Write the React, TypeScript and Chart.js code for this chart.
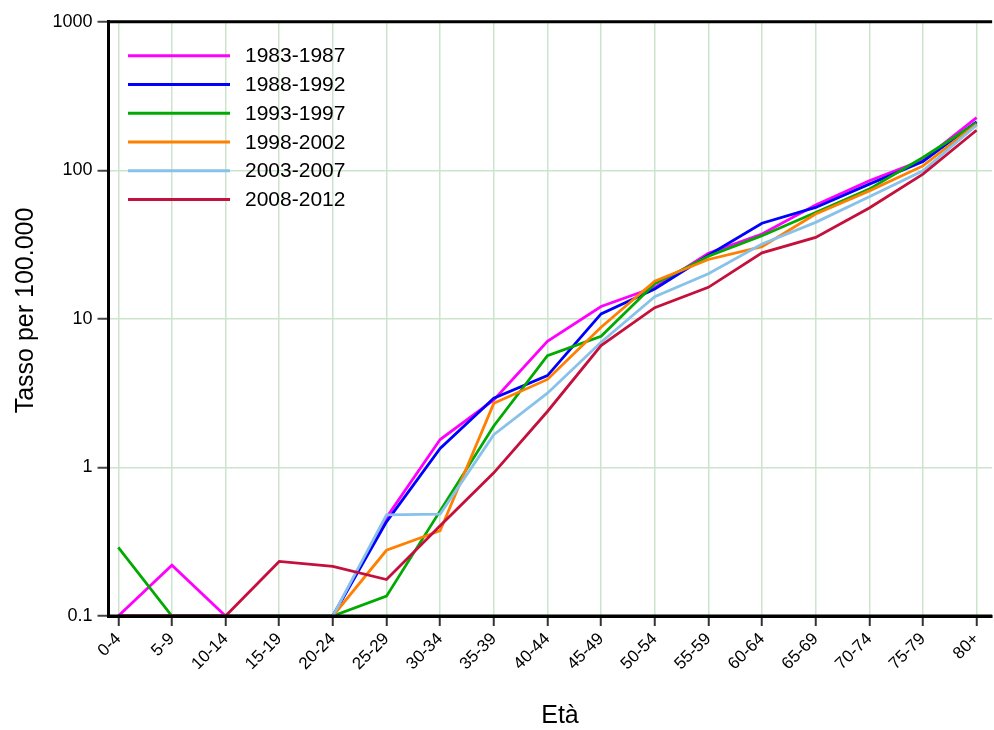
import React, { useEffect, useRef } from 'react';
import { Chart, registerables } from 'chart.js';

Chart.register(...registerables);

const ageGroups = ['0-4', '5-9', '10-14', '15-19', '20-24', '25-29', '30-34', '35-39', '40-44', '45-49', '50-54', '55-59', '60-64', '65-69', '70-74', '75-79', '80+'];

const periods = ['1983-1987', '1988-1992', '1993-1997', '1998-2002', '2003-2007', '2008-2012'];

const rate1983 = [0.1, 0.22, 0.1, 0.1, 0.1, 0.46, 1.54, 2.85, 7.07, 12.1, 16.3, 27.6, 37.2, 58.3, 85, 117, 226];
const rate1988 = [0.1, 0.1, 0.1, 0.1, 0.1, 0.43, 1.34, 2.92, 4.15, 10.8, 15.9, 26.8, 44.0, 56.2, 80.7, 114.6, 212];
const rate1993 = [0.29, 0.1, 0.1, 0.1, 0.1, 0.136, 0.51, 1.9, 5.66, 7.64, 17.2, 26.4, 36.3, 52.0, 74.7, 122, 208];
const rate1998 = [0.1, 0.1, 0.1, 0.1, 0.1, 0.277, 0.375, 2.7, 3.91, 8.78, 17.9, 25.1, 30.6, 50.8, 72.7, 107, 204];
const rate2003 = [0.1, 0.1, 0.1, 0.1, 0.1, 0.48, 0.485, 1.66, 3.16, 6.96, 14.1, 20.1, 31.9, 44.6, 66.3, 99.3, 201];
const rate2008 = [0.1, 0.1, 0.1, 0.233, 0.216, 0.176, 0.405, 0.92, 2.38, 6.61, 11.9, 16.3, 27.8, 35.3, 55.7, 94.3, 186];

const seriesValues = [rate1983, rate1988, rate1993, rate1998, rate2003, rate2008];
const seriesColors = ['#ff00ff', '#0000ff', '#00aa00', '#ff8000', '#88c2ea', '#c4103c'];

const yTickValues = [0.1, 1, 10, 100, 1000];
const yTickLabels = ['0.1', '1', '10', '100', '1000'];

const xTitle = 'Età';
const yTitle = 'Tasso per 100.000';

const FONT = 'Arial, "Liberation Sans", sans-serif';
const GRID = '#cce4cc';

const decorPlugin = {
  id: 'decor',
  afterDatasetsDraw(chart: any) {
    const { ctx, chartArea: a } = chart;
    ctx.save();
    // axes frame (bottom, left, top)
    ctx.strokeStyle = '#000';
    ctx.lineWidth = 3;
    ctx.lineCap = 'butt';
    ctx.beginPath();
    ctx.moveTo(a.left - 1.5, a.top);
    ctx.lineTo(a.right, a.top);
    ctx.moveTo(a.left, a.top - 1.5);
    ctx.lineTo(a.left, a.bottom + 1.5);
    ctx.moveTo(a.left - 1.5, a.bottom);
    ctx.lineTo(a.right, a.bottom);
    ctx.stroke();

    // legend
    const lx1 = a.left + 19.5;
    const lx2 = a.left + 121.5;
    const tx = a.left + 136.5;
    const y0 = 55.7;
    const dy = 28.75;
    ctx.font = `21px ${FONT}`;
    ctx.textAlign = 'left';
    ctx.textBaseline = 'middle';
    periods.forEach((p, i) => {
      const y = y0 + i * dy;
      ctx.strokeStyle = seriesColors[i];
      ctx.lineWidth = 3;
      ctx.beginPath();
      ctx.moveTo(lx1, y);
      ctx.lineTo(lx2, y);
      ctx.stroke();
      ctx.fillStyle = '#000';
      ctx.fillText(p, tx, y + 1);
    });

    // axis titles
    ctx.fillStyle = '#000';
    ctx.font = `25px ${FONT}`;
    ctx.textAlign = 'center';
    ctx.textBaseline = 'alphabetic';
    ctx.fillText(xTitle, 560, 723);
    ctx.translate(33, 310.5);
    ctx.rotate(-Math.PI / 2);
    ctx.fillText(yTitle, 0, 0);
    ctx.restore();
  },
};

export default function App() {
  const canvasRef = useRef<HTMLCanvasElement | null>(null);

  useEffect(() => {
    const canvas = canvasRef.current;
    if (!canvas) return;
    const n = periods.length;
    const chart = new Chart(canvas, {
      type: 'line',
      data: {
        datasets: periods.map((p, i) => ({
          label: p,
          data: seriesValues[i].map((y, k) => ({ x: k, y })),
          borderColor: seriesColors[i],
          backgroundColor: seriesColors[i],
          borderWidth: 2.8,
          pointRadius: 0,
          tension: 0,
          fill: false,
          order: n - i,
        })),
      },
      options: {
        responsive: false,
        animation: false,
        devicePixelRatio: 1,
        layout: { padding: { top: 21.7, left: 0, right: 0, bottom: 0 } },
        plugins: {
          legend: { display: false },
          tooltip: { enabled: false },
          title: { display: false },
        },
        scales: {
          x: {
            type: 'linear',
            min: -0.182,
            max: 16.29,
            afterFit: (s: any) => {
              s.height = 114;
            },
            afterBuildTicks: (s: any) => {
              s.ticks = ageGroups.map((_, i) => ({ value: i }));
            },
            ticks: {
              autoSkip: false,
              maxRotation: 45,
              minRotation: 45,
              padding: 3,
              color: '#000',
              font: { family: FONT, size: 17 },
              callback: (v: any) => ageGroups[Math.round(Number(v))] ?? '',
            },
            grid: { color: GRID, lineWidth: 1.5, tickLength: 10, tickColor: '#333', tickWidth: 2 },
            border: { display: true, color: '#000', width: 3 },
          },
          y: {
            type: 'logarithmic',
            min: 0.1,
            max: 1000,
            afterFit: (s: any) => {
              s.width = 108.5;
            },
            afterBuildTicks: (s: any) => {
              s.ticks = yTickValues.map((v) => ({ value: v }));
            },
            ticks: {
              color: '#000',
              padding: 5,
              font: { family: FONT, size: 18 },
              callback: (_v: any, idx: number) => yTickLabels[idx] ?? '',
            },
            grid: { color: GRID, lineWidth: 1.5, tickLength: 11, tickColor: '#444', tickWidth: 2 },
            border: { display: true, color: '#000', width: 3 },
          },
        },
      },
      plugins: [decorPlugin],
    } as any);
    return () => chart.destroy();
  }, []);

  return (
    <div style={{ position: 'absolute', left: 0, top: 0, width: 994, height: 730, background: '#fff' }}>
      <canvas ref={canvasRef} width={994} height={730} style={{ display: 'block' }} />
    </div>
  );
}
